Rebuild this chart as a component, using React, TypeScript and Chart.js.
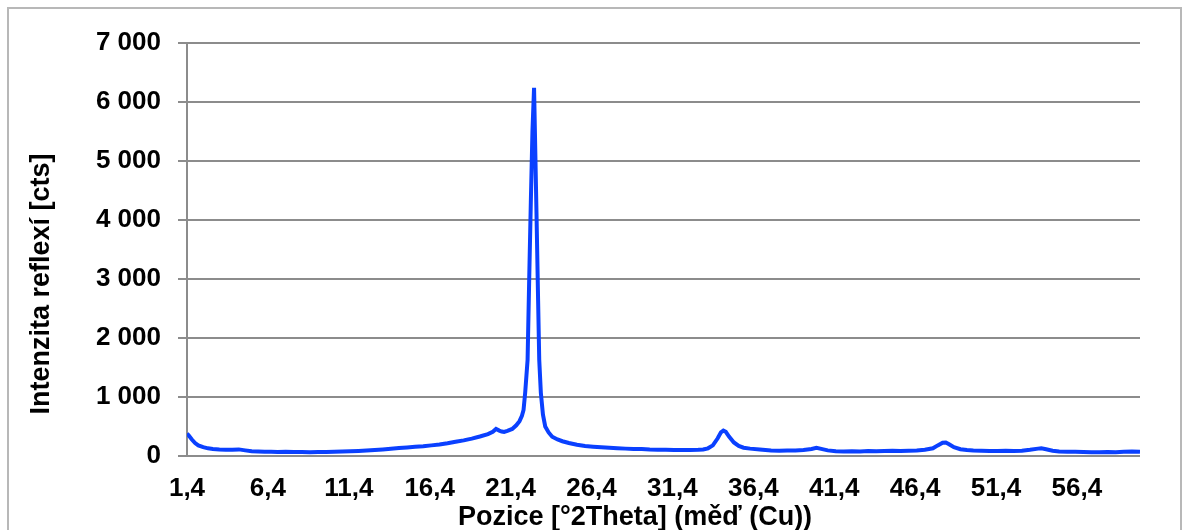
import React, { useEffect, useRef } from "react";
import { Chart, registerables } from "chart.js";

Chart.register(...registerables);

const twoTheta: number[] = [
  1.4, 1.5, 1.7, 1.9, 2.1, 2.4, 2.7, 3.0, 3.4, 3.8, 4.2, 4.6, 5.0, 5.4, 5.8, 6.2, 6.6, 7.0, 7.5, 8.0,
  8.5, 9.0, 9.5, 10.0, 10.5, 11.0, 11.5, 12.0, 12.5, 13.0, 13.5, 14.0, 14.5, 15.0, 15.5, 16.0, 16.5, 17.0, 17.5, 18.0,
  18.5, 19.0, 19.5, 20.0, 20.3, 20.5, 20.7, 20.85, 21.0, 21.2, 21.5, 21.75, 21.95, 22.1, 22.2, 22.3, 22.45, 22.55, 22.65, 22.75,
  22.85, 23.0, 23.1, 23.17, 23.27, 23.4, 23.54, 23.75, 23.97, 24.3, 24.6, 25.0, 25.5, 26.0, 26.5, 27.0, 27.5, 28.0, 28.5, 29.0,
  29.5, 30.0, 30.5, 31.0, 31.5, 32.0, 32.5, 33.0, 33.3, 33.6, 33.9, 34.2, 34.4, 34.55, 34.7, 34.9, 35.2, 35.5, 35.8, 36.2,
  36.8, 37.5, 38.0, 38.5, 39.0, 39.5, 40.0, 40.3, 40.6, 41.0, 41.5, 42.0, 42.5, 43.0, 43.5, 44.0, 44.5, 45.0, 45.5, 46.0,
  46.5, 47.0, 47.5, 47.8, 48.1, 48.3, 48.5, 48.8, 49.2, 49.6, 50.0, 50.5, 51.0, 51.5, 52.0, 52.5, 53.0, 53.5, 54.0, 54.2,
  54.5, 54.9, 55.3, 55.8, 56.3, 56.8, 57.3, 57.8, 58.3, 58.8, 59.3, 59.8, 60.3,
];

const intensity: number[] = [
  380, 350, 280, 220, 180, 150, 130, 120, 112, 108, 108, 112, 95, 80, 75, 72, 70, 68, 70, 66,
  68, 65, 66, 68, 72, 75, 80, 85, 92, 100, 110, 122, 135, 145, 155, 165, 180, 195, 215, 240,
  265, 295, 330, 370, 410, 458, 430, 415, 407, 425, 458, 520, 590, 680, 780, 1070, 1630, 3000, 4300, 5500,
  6240, 4120, 2640, 1630, 1070, 700, 500, 400, 327, 280, 250, 220, 190, 170, 158, 148, 138, 130, 125, 120,
  117, 110, 108, 105, 100, 102, 100, 105, 110, 130, 180, 300, 400, 430, 410, 330, 230, 170, 140, 125,
  110, 95, 90, 92, 95, 100, 120, 140, 120, 95, 80, 75, 80, 78, 85, 82, 85, 88, 85, 90,
  95, 105, 130, 180, 225, 230, 200, 150, 115, 100, 92, 88, 85, 85, 88, 85, 90, 105, 125, 130,
  115, 90, 75, 70, 72, 68, 65, 62, 68, 65, 72, 75, 70,
];

const xTickValues: number[] = [1.4, 6.4, 11.4, 16.4, 21.4, 26.4, 31.4, 36.4, 41.4, 46.4, 51.4, 56.4];
const yTickValues: number[] = [0, 1000, 2000, 3000, 4000, 5000, 6000, 7000];

const xTitle = "Pozice [°2Theta] (měď (Cu))";
const yTitle = "Intenzita reflexí [cts]";

const FONT = '"Liberation Sans", Arial, sans-serif';

export default function App() {
  const ref = useRef<HTMLCanvasElement | null>(null);

  useEffect(() => {
    if (!ref.current) return;
    const titlesPlugin = {
      id: "axisTitles",
      afterDraw(chart: any) {
        const ctx = chart.ctx;
        ctx.save();
        ctx.fillStyle = "#000";
        ctx.font = `bold 27px ${FONT}`;
        ctx.textAlign = "center";
        ctx.textBaseline = "alphabetic";
        ctx.fillText(xTitle, 635, 525);
        ctx.translate(49, 284);
        ctx.rotate(-Math.PI / 2);
        ctx.fillText(yTitle, 0, 0);
        ctx.restore();
      },
    };
    const chart = new Chart(ref.current, {
      type: "line",
      data: {
        datasets: [
          {
            data: twoTheta.map((x, i) => ({ x, y: intensity[i] })),
            borderColor: "#0a40ff",
            borderWidth: 4,
            pointRadius: 0,
            tension: 0,
            fill: false,
          },
        ],
      },
      options: {
        animation: false,
        responsive: false,
        devicePixelRatio: 1,
        layout: { padding: { left: 0, right: 43, top: 43, bottom: 0 } },
        plugins: { legend: { display: false }, tooltip: { enabled: false } },
        scales: {
          x: {
            type: "linear",
            min: 1.4,
            max: 60.3,
            afterBuildTicks: (scale: any) => {
              scale.ticks = xTickValues.map((v) => ({ value: v }));
            },
            afterFit: (scale: any) => {
              scale.height = 74;
            },
            grid: { display: false, drawTicks: false },
            border: { display: false },
            ticks: {
              autoSkip: false,
              maxRotation: 0,
              minRotation: 0,
              padding: 17,
              color: "#000",
              font: { family: FONT, size: 26, weight: "bold" },
              callback: (v: any) => Number(v).toFixed(1).replace(".", ","),
            },
          },
          y: {
            min: 0,
            max: 7000,
            afterBuildTicks: (scale: any) => {
              scale.ticks = yTickValues.map((v) => ({ value: v }));
            },
            afterFit: (scale: any) => {
              scale.width = 187;
            },
            grid: { color: "#8c8c8c", lineWidth: 2, tickLength: 9, drawTicks: true },
            border: { display: true, color: "#8c8c8c", width: 2 },
            ticks: {
              padding: 17,
              color: "#000",
              font: { family: FONT, size: 26, weight: "bold" },
              callback: (v: any) => String(v).replace(/\B(?=(\d{3})+(?!\d))/g, " "),
            },
          },
        },
      },
      plugins: [titlesPlugin],
    });
    return () => chart.destroy();
  }, []);

  return (
    <div style={{ position: "fixed", left: 0, top: 0, width: 1183, height: 530, background: "#fff" }}>
      <canvas ref={ref} width={1183} height={530} style={{ position: "absolute", left: 0, top: 0 }} />
      <div
        style={{
          position: "absolute",
          left: 7,
          top: 7,
          width: 1175,
          height: 540,
          border: "2px solid #b8b8b8",
          boxSizing: "border-box",
          pointerEvents: "none",
        }}
      />
    </div>
  );
}
